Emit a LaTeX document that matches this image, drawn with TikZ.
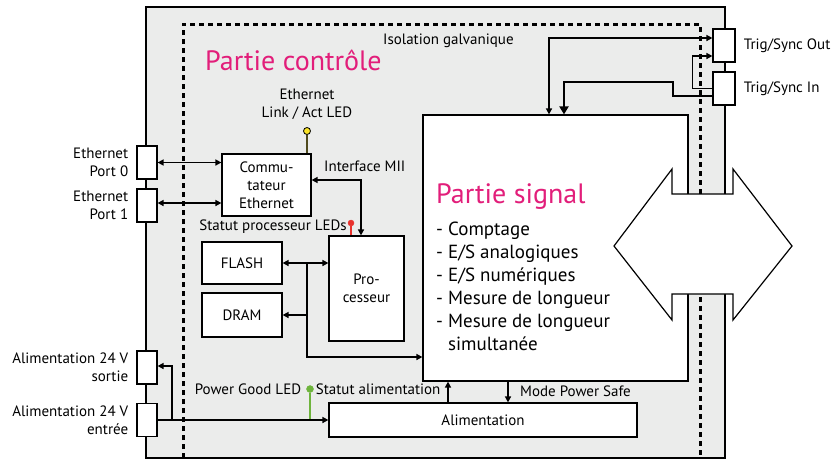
\documentclass[tikz,border=0pt]{standalone}
\usepackage{fontspec}
\setmainfont{PT Sans}
\usepackage{xcolor}
\usetikzlibrary{arrows.meta,positioning,calc}
\definecolor{rose}{RGB}{226,30,122}
\definecolor{fond}{RGB}{235,236,235}
\definecolor{jaune}{RGB}{250,228,40}
\definecolor{olive}{RGB}{80,75,30}
\definecolor{rouge}{RGB}{232,50,45}
\definecolor{vert}{RGB}{110,180,60}
\tikzset{
    bloc/.style={
        rectangle,
        draw,
        fill=white,
        line width=1.2pt,
        align=center,
        inner sep=0pt
    },
    connecteur/.style={bloc, minimum width=20pt, minimum height=33pt},
    etiquette/.style={align=right, anchor=east, inner sep=0pt},
    titre/.style={inner sep=0pt, anchor=west, text=rose, font=\fontsize{28}{32}\selectfont},
    fleche/.style={-{Triangle[length=6pt,width=6pt]}, line width=1.5pt},
    flechedouble/.style={{Triangle[length=6pt,width=6pt]}-{Triangle[length=6pt,width=6pt]}, line width=1.5pt},
    flechegrande/.style={-{Triangle[length=8pt,width=9pt]}, line width=2pt},
    led/.style={circle, draw, inner sep=0pt, minimum size=7pt},
    isolation/.style={line width=3pt, dash pattern=on 5pt off 4pt}
}

\begin{document}
\begin{tikzpicture}[x=1pt, y=-1pt, font=\fontsize{15}{18}\selectfont]
        \useasboundingbox (0,0) rectangle (840,459);
        \node[bloc, fill=fond, line width=1.5pt, minimum width=579pt, minimum height=451pt] (boitier) at (435.5,232.5) {};
        \draw[isolation] (183,458) -- (183,24) -- (700,24) -- (700,458);
        \node[inner sep=0pt, anchor=west] (isol) at (383,41) {Isolation galvanique};
        \node[titre] (controle) at (205,60) {Partie contrôle};

        \node[bloc, minimum width=265pt, minimum height=266pt] (signal) at (555.5,248) {};
        \node[titre] (titresignal) at (436,197) {Partie signal};
        \node[inner sep=0pt, anchor=north west, align=left, font=\fontsize{19}{23}\selectfont] (liste) at (436,222)
            {- Comptage\\
             - E/S analogiques\\
             - E/S numériques\\
             - Mesure de longueur\\
             - Mesure de longueur\\
             \phantom{- }simultanée};

        \node[bloc, minimum width=89pt, minimum height=62pt] (commut) at (266.5,185)
            {Commu-\\tateur\\Ethernet};
        \node[bloc, minimum width=75pt, minimum height=105pt] (proc) at (366.5,288.5) {Pro-\\cesseur};
        \node[bloc, minimum width=80pt, minimum height=42pt] (flash) at (242,263) {FLASH};
        \node[bloc, minimum width=80pt, minimum height=44pt] (dram) at (242,315) {DRAM};
        \node[bloc, minimum width=308pt, minimum height=34pt] (alim) at (483,420) {Alimentation};

        \node[connecteur] (port0) at (147,162.5) {};
        \node[connecteur] (port1) at (147,205.5) {};
        \node[connecteur] (sortie) at (147,367.5) {};
        \node[connecteur] (entree) at (147,420) {};
        \node[connecteur, minimum width=22pt] (trigout) at (724,45.5) {};
        \node[connecteur, minimum width=22pt] (trigin) at (724,88.5) {};

        \node[etiquette] at ([xshift=-8pt]port0.west) {Ethernet\\Port 0};
        \node[etiquette] at ([xshift=-8pt]port1.west) {Ethernet\\Port 1};
        \node[etiquette] at ([xshift=-8pt]sortie.west) {Alimentation 24 V\\sortie};
        \node[etiquette] at ([xshift=-8pt]entree.west) {Alimentation 24 V\\entrée};
        \node[inner sep=0pt, anchor=west] at ([xshift=8pt]trigout.east) {Trig/Sync Out};
        \node[inner sep=0pt, anchor=west] at ([xshift=8pt]trigin.east) {Trig/Sync In};

        \node[led, fill=jaune, line width=0.8pt] (ledeth) at (307,131) {};
        \node[align=center, inner sep=0pt, above=7pt of ledeth] (texteeth)
            {Ethernet\\Link / Act LED};
        \draw[olive, line width=1.5pt] (ledeth) -- (ledeth |- commut.north);

        \node[led, fill=rouge, draw=rouge, minimum size=6pt] (ledproc) at (351,223) {};
        \node[inner sep=0pt, anchor=east] (texteproc) at (347,227) {Statut processeur LEDs};
        \draw[rouge, line width=1.5pt] (ledproc) -- (ledproc |- proc.north);

        \node[led, fill=vert, draw=vert] (ledpg) at (310,389) {};
        \node[inner sep=0pt, anchor=east] (textepg) at ([xshift=-5pt]ledpg.west) {Power Good LED};
        \node[inner sep=0pt, anchor=west] (textestatut) at ([xshift=2pt]ledpg.east) {Statut alimentation};
        \node[inner sep=0pt, anchor=west] (textemode) at (520,391) {Mode Power Safe};
        \node[inner sep=0pt, anchor=west] (textemii) at (324,166) {Interface MII};

        \draw[flechedouble] (port0.east) -- (port0.east -| commut.west);
        \draw[flechedouble] ([yshift=2.5pt]port1.east) -- ([yshift=2.5pt]port1.east -| commut.west);
        \draw[flechedouble] ([yshift=5pt]commut.east) -| ([xshift=-5.5pt]proc.north);

        \coordinate (bus) at (307,263);
        \coordinate (coin) at (307,357);
        \draw[flechedouble] (flash.east) -- (flash.east -| proc.west);
        \draw[fleche] (bus |- dram.east) -- (dram.east);
        \draw[fleche] (bus) -- (coin) -- (coin -| signal.west);

        \coordinate (derivation) at (172,420);
        \draw[vert, line width=2pt] (ledpg) -- (ledpg |- entree.east);
        \draw[fleche] (entree.east) -- (alim.west);
        \draw[fleche] (derivation) |- ([yshift=1.5pt]sortie.east);
        \draw[fleche] ([xshift=-35pt]alim.north) -- ([xshift=-35pt]alim.north |- signal.south);
        \draw[fleche] ([xshift=25pt]alim.north |- signal.south) -- ([xshift=25pt]alim.north);

        \draw[flechedouble] ([xshift=-6.5pt]signal.north) |- ([yshift=7.5pt]trigout.west);
        \draw[fleche] (trigin.west) -- ++(-20,0) |- ([yshift=-10.5pt]trigout.west);
        \draw[flechegrande] ([yshift=-7.5pt]trigin.west) -- ++(-39,0) -- ++(0,-14) -| ([xshift=8.5pt]signal.north);

        \filldraw[fill=white, line width=1.2pt] (614,246) -- (672,169) -- (672,194) -- (733,194) -- (733,169)
            -- (792,246) -- (733,320) -- (733,294) -- (672,294) -- (672,320) -- cycle;
    \end{tikzpicture}
\end{document}
